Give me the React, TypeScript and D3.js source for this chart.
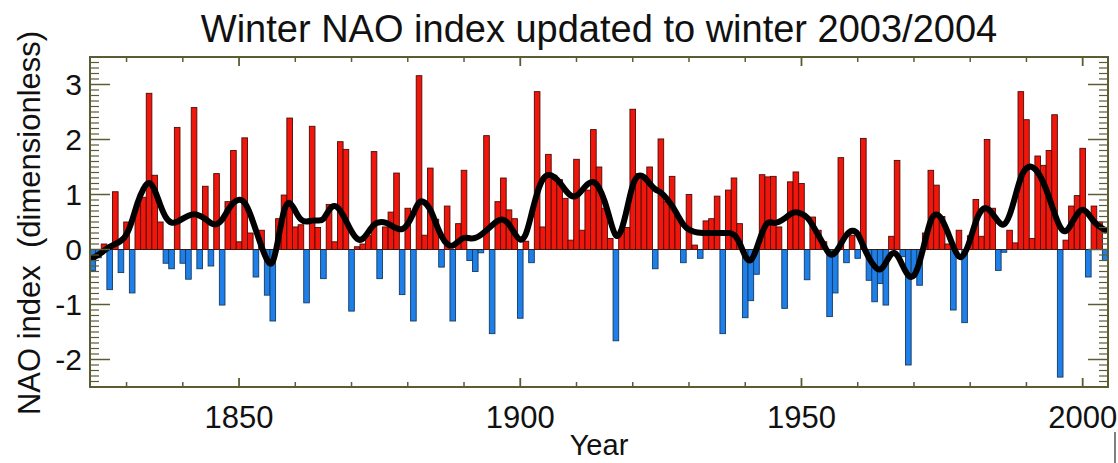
import React from "react";
import * as d3 from "d3";

// winter NAO index, one value per winter, starting 1824
const firstYear = 1824;
const naoIndex = [
  -0.38, -0.15, 0.1, -0.73, 1.05, -0.42, 0.5, -0.79, 0.8, 0.95,
  2.84, 1.35, 0.5, -0.25, -0.35, 2.22, -0.25, -0.54, 2.58, -0.35,
  1.15, -0.3, 1.38, -1.01, 0.87, 1.8, 0.14, 2.03, 0.3, -0.5,
  0.35, -0.83, -1.3, 0.56, 0.99, 2.39, 0.41, 0.45, -0.97, 2.24,
  0.4, -0.53, 0.82, 0.14, 1.96, 1.82, -1.12, 0.05, 0.1, 0.25,
  1.78, -0.53, 0.41, 0.68, 1.39, -0.82, 0.75, -1.3, 3.16, 0.26,
  1.48, 0.55, -0.32, 0.79, -1.3, 0.47, 1.44, -0.2, -0.4, -0.06,
  2.07, -1.53, 0.87, 1.3, 0.72, 0.56, -1.25, 0.15, -0.24, 2.87,
  0.41, 1.73, 1.35, 1.27, 0.93, 0.17, 1.64, 0.35, 1.08, 2.18,
  1.5, 0.75, 0.2, -1.66, 0.35, 0.4, 2.55, 1.38, 1.32, 1.5,
  -0.35, 2.01, 0.87, 1.33, 0.6, -0.24, 1.0, 0.08, -0.16, 0.52,
  0.56, 0.97, -1.53, 1.08, 1.3, 0.47, -1.24, -0.93, -0.45, 1.36,
  1.32, 1.33, 0.41, -1.07, 1.23, 1.41, 1.2, -0.55, 0.59, 0.35,
  0.14, -1.22, -0.79, 1.67, -0.24, 0.26, -0.16, 2.02, -0.56, -0.95,
  -0.62, -1.01, 0.24, 1.62, -0.13, -2.1, -0.5, -0.65, 0.3, 1.44,
  1.17, 0.6, 0.1, -1.1, 0.35, -1.33, 0.25, 0.91, 0.24, 2.0,
  0.75, -0.38, -0.05, 0.35, 0.12, 2.87, 2.36, 0.2, 1.7, 1.53,
  1.8, 2.45, -2.32, 0.17, 0.79, 0.98, 1.84, -0.5, 0.79, 0.5,
  -0.2,
];

// the thick smoothed curve
const naoSmoothed = [
  -0.15, -0.1, -0.02, 0.05, 0.1, 0.15, 0.25, 0.52, 0.88, 1.12,
  1.26, 1.1, 0.8, 0.56, 0.47, 0.5, 0.56, 0.62, 0.65, 0.62,
  0.56, 0.47, 0.44, 0.53, 0.72, 0.86, 0.92, 0.88, 0.65, 0.35,
  0.05, -0.22, -0.32, 0.2, 0.78, 0.9, 0.7, 0.52, 0.5, 0.53,
  0.53, 0.52, 0.74, 0.82, 0.72, 0.53, 0.32, 0.17, 0.17, 0.32,
  0.47, 0.5, 0.5, 0.44, 0.38, 0.35, 0.45, 0.65, 0.9, 0.87,
  0.75, 0.47, 0.23, 0.08, 0.05, 0.15, 0.23, 0.2, 0.2, 0.26,
  0.35, 0.44, 0.53, 0.56, 0.47, 0.29, 0.14, 0.23, 0.65, 1.04,
  1.31, 1.37, 1.33, 1.23, 1.08, 0.96, 0.96, 1.08, 1.2, 1.25,
  1.14, 0.9, 0.53, 0.17, 0.32, 0.74, 1.22, 1.37, 1.33, 1.2,
  1.08, 1.05, 0.93, 0.8, 0.62, 0.44, 0.35, 0.32, 0.3, 0.3,
  0.3, 0.3, 0.3, 0.3, 0.29, 0.14, -0.15, -0.25, 0.0, 0.32,
  0.53, 0.47, 0.5, 0.56, 0.65, 0.69, 0.65, 0.6, 0.44, 0.26,
  0.08, -0.12, -0.08, 0.1, 0.28, 0.36, 0.32, 0.05, -0.16, -0.32,
  -0.4, -0.25, -0.04, -0.07, -0.3, -0.5, -0.52, -0.25, 0.17, 0.58,
  0.67, 0.56, 0.32, 0.05, -0.18, -0.1, 0.17, 0.53, 0.74, 0.77,
  0.65, 0.5, 0.41, 0.6, 0.96, 1.34, 1.5, 1.52, 1.42, 1.23,
  0.96, 0.65, 0.38, 0.29, 0.47, 0.65, 0.76, 0.65, 0.5, 0.41,
  0.35,
];

const yTickValues = [-2, -1, 0, 1, 2, 3];
const xTickLabels = [1850, 1900, 1950, 2000];

const W = 1118;
const H = 463;
const left = 90;
const right = 1108;
const top = 57;
const bottom = 387;
const axisColor = "#5c5c34";
const font = "'Liberation Sans', Arial, Helvetica, sans-serif";

export default function App() {
  const years = naoIndex.map((_, i) => firstYear + i);
  const x = d3.scaleLinear().domain([1823.5, 2004.5]).range([left, right]);
  const y = d3.scaleLinear().domain([-2.5, 3.5]).range([bottom, top]);
  const bw = x(1) - x(0);

  const line = d3
    .line<number>()
    .x((_, i) => x(years[i]))
    .y((d) => y(d))
    .curve(d3.curveBasis);

  // minor ticks every 0.1 on y, every 10 years on x
  const yMinor = d3.range(-25, 36).map((i) => i / 10).filter((v) => Math.abs(v - Math.round(v)) > 1e-6);
  const xMinor = d3.range(1830, 2001, 10).filter((v) => v % 50 !== 0);

  return (
    <svg
      width={W}
      height={H}
      style={{ position: "absolute", left: 0, top: 0, background: "#fff" }}
      fontFamily={font}
    >
      <rect x={0} y={0} width={W} height={H} fill="#fff" />

      <text x={(left + right) / 2} y={42} textAnchor="middle" fontSize={38} fill="#111">
        Winter NAO index updated to winter 2003/2004
      </text>

      {/* bars */}
      {naoIndex.map((v, i) => (
        <rect
          key={years[i]}
          x={x(years[i] - 0.5)}
          y={Math.min(y(v), y(0))}
          width={bw}
          height={Math.abs(y(v) - y(0))}
          fill={v >= 0 ? "#f0160c" : "#1f7fe8"}
          stroke={v >= 0 ? "#4a0c06" : "#153a60"}
          strokeWidth={0.9}
        />
      ))}

      <line x1={left} x2={right} y1={y(0)} y2={y(0)} stroke="#3a1a10" strokeWidth={1.2} />

      {/* smoothed curve */}
      <path
        d={line(naoSmoothed) ?? ""}
        fill="none"
        stroke="#000"
        strokeWidth={6}
        strokeLinejoin="round"
        strokeLinecap="round"
      />

      {/* frame */}
      <rect x={left} y={top} width={right - left} height={bottom - top} fill="none" stroke={axisColor} strokeWidth={2} />

      {/* y ticks both sides */}
      {yMinor.map((v) => (
        <g key={"ym" + v} stroke={axisColor} strokeWidth={1.2}>
          <line x1={left} x2={left + 9} y1={y(v)} y2={y(v)} />
          <line x1={right} x2={right - 9} y1={y(v)} y2={y(v)} />
        </g>
      ))}
      {yTickValues.map((v) => (
        <g key={"yt" + v}>
          <line x1={left} x2={left + 20} y1={y(v)} y2={y(v)} stroke={axisColor} strokeWidth={1.5} />
          <line x1={right} x2={right - 20} y1={y(v)} y2={y(v)} stroke={axisColor} strokeWidth={1.5} />
          <text x={82} y={y(v)} dy="0.36em" textAnchor="end" fontSize={30} fill="#111">
            {v}
          </text>
        </g>
      ))}

      {/* x ticks top and bottom */}
      {xMinor.map((v) => (
        <g key={"xm" + v} stroke={axisColor} strokeWidth={1.5}>
          <line x1={x(v)} x2={x(v)} y1={bottom} y2={bottom - 5} />
          <line x1={x(v)} x2={x(v)} y1={top} y2={top + 5} />
        </g>
      ))}
      {xTickLabels.map((v) => (
        <g key={"xt" + v}>
          <line x1={x(v)} x2={x(v)} y1={bottom} y2={bottom - 9} stroke={axisColor} strokeWidth={1.8} />
          <line x1={x(v)} x2={x(v)} y1={top} y2={top + 9} stroke={axisColor} strokeWidth={1.8} />
          <text x={x(v)} y={428} textAnchor="middle" fontSize={31} fill="#111">
            {v}
          </text>
        </g>
      ))}

      <text x={(left + right) / 2} y={455} textAnchor="middle" fontSize={29} fill="#111">
        Year
      </text>
      <text
        transform={`translate(40, 223) rotate(-90)`}
        textAnchor="middle"
        fontSize={31}
        fill="#111"
        xmlSpace="preserve"
      >
        NAO index  (dimensionless)
      </text>

      <line x1={1115} x2={1115} y1={432} y2={463} stroke="#555" strokeWidth={1.5} />
    </svg>
  );
}
